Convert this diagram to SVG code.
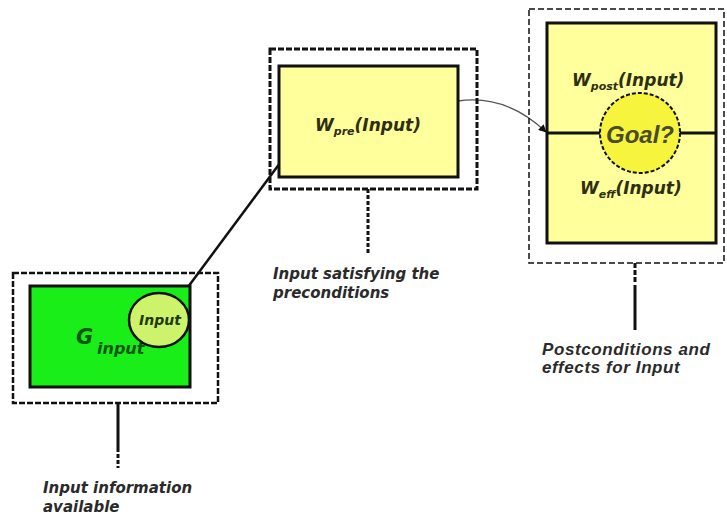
<svg xmlns="http://www.w3.org/2000/svg" width="727" height="517" viewBox="0 0 727 517">
  <style>
    .frame { fill: none; stroke: #111; }
    .box { stroke: #111; stroke-width: 3; }
    .stem { fill: none; stroke: #111; stroke-width: 3; }
    .lbl { font-family: "DejaVu Sans", Verdana, sans-serif; font-weight: bold; font-style: italic; font-size: 15px; fill: #2a2a2a; }
    .lbl2 { font-family: "Liberation Sans", Arial, sans-serif; font-weight: bold; font-style: italic; font-size: 17px; fill: #2a2a2a; letter-spacing: 0.6px; }
    .w { font-family: "DejaVu Sans", Verdana, sans-serif; font-weight: bold; font-style: italic; font-size: 17px; fill: #2e2e12; }
    .sub { font-size: 11px; }
  </style>
  <defs>
    <marker id="arrow" viewBox="0 0 10 10" refX="9" refY="5" markerWidth="8" markerHeight="8" markerUnits="userSpaceOnUse" orient="auto">
      <path d="M0,0 L10,5 L0,10 Z" fill="#111"/>
    </marker>
  </defs>

  <rect width="727" height="517" fill="#ffffff"/>

  <!-- connectors -->
  <g id="connectors">
    <line x1="188" y1="287" x2="280" y2="163" stroke="#111" stroke-width="2.5"/>
    <path d="M458,101 Q506,94 546,132" fill="none" stroke="#555" stroke-width="1.3" marker-end="url(#arrow)"/>
  </g>

  <!-- input information available -->
  <g id="node-input">
    <rect class="frame" x="13" y="273" width="205" height="130" stroke-width="2.5" stroke-dasharray="6 2"/>
    <rect class="box" x="30" y="286" width="160" height="101" fill="#19ee19"/>
    <text x="76" y="344" font-family="DejaVu Sans, Verdana, sans-serif" font-weight="bold" font-style="italic" font-size="21" fill="#0d560d">G</text>
    <text x="97" y="354" font-family="DejaVu Sans, Verdana, sans-serif" font-weight="bold" font-style="italic" font-size="16" fill="#0d560d">input</text>
    <ellipse cx="159" cy="320" rx="30" ry="27" fill="#cdf36c" stroke="#111" stroke-width="2.5"/>
    <text x="160" y="325" text-anchor="middle" font-family="DejaVu Sans, Verdana, sans-serif" font-weight="bold" font-style="italic" font-size="14" fill="#1c3a0c">Input</text>
    <path class="stem" d="M118,403 V468" stroke-dasharray="49 2 4 2 4 2"/>
    <text class="lbl" x="43" y="493">Input information</text>
    <text class="lbl" x="43" y="512">available</text>
  </g>

  <!-- input satisfying the preconditions -->
  <g id="node-pre">
    <rect class="frame" x="270" y="49" width="207" height="140" stroke-width="3" stroke-dasharray="6 2"/>
    <rect class="box" x="279" y="66" width="179" height="111" fill="#ffff9c"/>
    <text class="w" x="315" y="131">W<tspan class="sub" dy="4">pre</tspan><tspan dy="-4">(Input)</tspan></text>
    <path class="stem" d="M368,189 V255" stroke-dasharray="4 2"/>
    <text class="lbl" x="273" y="279">Input satisfying the</text>
    <text class="lbl" x="273" y="298">preconditions</text>
  </g>

  <!-- postconditions and effects -->
  <g id="node-post">
    <rect class="frame" x="529" y="9" width="195" height="254" stroke-width="1.5" stroke-dasharray="6 3"/>
    <rect class="box" x="547" y="23" width="169" height="220" fill="#ffff9c"/>
    <line x1="547" y1="133" x2="716" y2="133" stroke="#111" stroke-width="3"/>
    <circle cx="640" cy="133" r="40" fill="#f6f43c" stroke="#111" stroke-width="2" stroke-dasharray="4 2"/>
    <text x="640" y="143" text-anchor="middle" font-family="Liberation Sans, Arial, sans-serif" font-weight="bold" font-style="italic" font-size="24" fill="#4a4a2e">Goal?</text>
    <text class="w" x="572" y="86">W<tspan class="sub" dy="4">post</tspan><tspan dy="-4">(Input)</tspan></text>
    <text class="w" x="580" y="194">W<tspan class="sub" dy="4">eff</tspan><tspan dy="-4">(Input)</tspan></text>
    <path class="stem" d="M635,263 V330" stroke-dasharray="5 2 5 2 5 3 45"/>
    <text class="lbl2" x="542" y="355">Postconditions and</text>
    <text class="lbl2" x="542" y="373">effects for Input</text>
  </g>
</svg>
